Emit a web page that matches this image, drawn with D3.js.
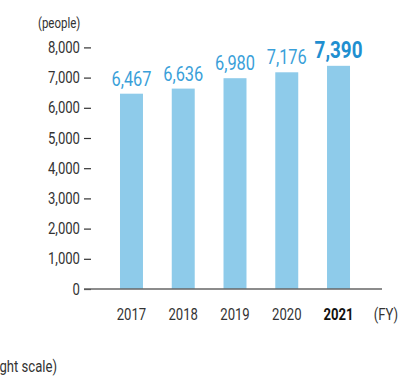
<!DOCTYPE html>
<html>
<head>
<meta charset="utf-8">
<script src="https://cdn.jsdelivr.net/npm/d3@7"></script>
<style>
  body { margin: 0; background: #fff; }
  svg { display: block; font-family: "Roboto", sans-serif; }
</style>
</head>
<body>
<svg></svg>
<script>
var years = ["2017", "2018", "2019", "2020", "2021"]
var people = [6467, 6636, 6980, 7176, 7390]
var yTicks = [0, 1000, 2000, 3000, 4000, 5000, 6000, 7000, 8000]

var w = 420, h = 378
var sx = 0.82   // estrechamos el texto, la fuente original es condensada
var svg = d3.select("svg").attr("width", w).attr("height", h)

function pos(px, py){ return "translate(" + px + "," + py + ") scale(" + sx + ",1)" }

var x = d3.scaleBand()
		.domain(years)
		.range([105.6, 364.4])
		.paddingInner(0.556)
		.paddingOuter(0.278)

var y = d3.scaleLinear()
		.domain([0, 8000])
		.range([289, 47.4])

// eje y con guiones cortos
var yAxis = d3.axisLeft(y)
		.tickValues(yTicks)
		.tickSize(7)
		.tickPadding(4)
		.tickFormat(d3.format(","))

var gy = svg.append("g")
		.attr("transform", "translate(91,0)")
		.call(yAxis)
gy.select(".domain").remove()
gy.selectAll(".tick line").attr("stroke", "#333").attr("stroke-width", 1.2)
gy.selectAll(".tick text")
		.attr("x", null)
		.attr("transform", pos(-11, 0))
		.attr("fill", "#333")
		.style("font-size", "16px")
		.style("font-family", "Roboto, sans-serif")

svg.append("text")
		.attr("transform", pos(38, 28))
		.attr("fill", "#333")
		.style("font-size", "14px")
		.text("(people)")

// barras
svg.selectAll("rect.bar")
		.data(people)
		.enter()
		.append("rect")
		.attr("class", "bar")
		.attr("x", function(d, i){ return x(years[i]) })
		.attr("width", x.bandwidth())
		.attr("y", function(d){ return y(d) })
		.attr("height", function(d){ return y(0) - y(d) })
		.attr("fill", "#8ecbea")

// linea base
svg.append("line")
		.attr("x1", 84)
		.attr("x2", 382)
		.attr("y1", y(0))
		.attr("y2", y(0))
		.attr("stroke", "#666")
		.attr("stroke-width", 1.6)

// valores encima de cada barra
svg.selectAll("text.valor")
		.data(people)
		.enter()
		.append("text")
		.attr("class", "valor")
		.attr("transform", function(d, i){ return pos(x(years[i]) + x.bandwidth() / 2, y(d) - 8) })
		.attr("text-anchor", "middle")
		.attr("fill", function(d, i){ return i == people.length - 1 ? "#1f8fd0" : "#3a9fd9" })
		.style("font-size", function(d, i){ return i == people.length - 1 ? "23px" : "20px" })
		.style("font-weight", function(d, i){ return i == people.length - 1 ? "bold" : "normal" })
		.text(d3.format(","))

// etiquetas de años
svg.selectAll("text.anio")
		.data(years)
		.enter()
		.append("text")
		.attr("class", "anio")
		.attr("transform", function(d){ return pos(x(d) + x.bandwidth() / 2, 320) })
		.attr("text-anchor", "middle")
		.attr("fill", function(d, i){ return i == years.length - 1 ? "#111" : "#333" })
		.style("font-size", "16px")
		.style("font-weight", function(d, i){ return i == years.length - 1 ? "bold" : "normal" })
		.text(function(d){ return d })

svg.append("text")
		.attr("transform", pos(386, 320))
		.attr("text-anchor", "middle")
		.attr("fill", "#333")
		.style("font-size", "16px")
		.text("(FY)")

// texto cortado de la siguiente grafica
svg.append("text")
		.attr("transform", pos(57, 372))
		.attr("text-anchor", "end")
		.attr("fill", "#333")
		.style("font-size", "16px")
		.text("(right scale)")
</script>
</body>
</html>
